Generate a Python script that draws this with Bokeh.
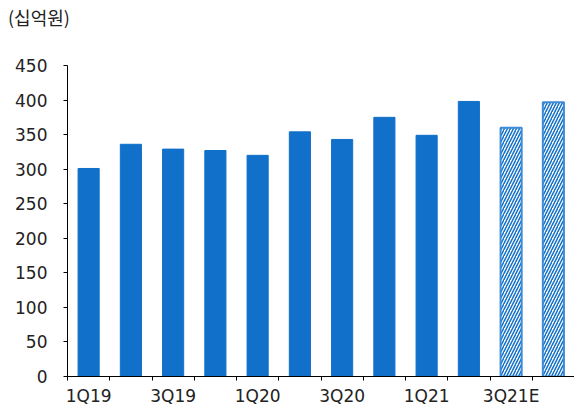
from bokeh.plotting import figure
from bokeh.models import ColumnDataSource, FixedTicker, Range1d, Div
from bokeh.layouts import column
from bokeh.embed import file_html
from bokeh.resources import INLINE

quarters = ["1Q19", "2Q19", "3Q19", "4Q19", "1Q20", "2Q20", "3Q20", "4Q20",
            "1Q21", "2Q21", "3Q21E", "4Q21E"]
values = [301, 336, 329, 327, 320, 354, 343, 375, 349, 398, 360, 397]
estimate = [False] * 10 + [True] * 2
y_ticks = [0, 50, 100, 150, 200, 250, 300, 350, 400, 450]
unit_label = "(십억원)"

FONT = "DejaVu Sans, Noto Sans CJK KR"
BLUE = "#1170C9"
TXT = "#222222"

idx = list(range(len(quarters)))
centers = [i + 0.5 for i in idx]

act = ColumnDataSource(dict(x=[c for c, e in zip(centers, estimate) if not e],
                            top=[v for v, e in zip(values, estimate) if not e]))
est = ColumnDataSource(dict(x=[c for c, e in zip(centers, estimate) if e],
                            top=[v for v, e in zip(values, estimate) if e]))

header = Div(
    text=('<div style="margin:0;padding:8px 0 0 8px;font-family:\'Noto Sans CJK KR\';'
          'font-size:18px;line-height:1;color:%s;white-space:nowrap">%s</div>') % (TXT, unit_label),
    width=574, height=40, margin=0)

p = figure(width=574, height=368, output_backend="svg", toolbar_location=None,
           x_range=Range1d(0, len(quarters)), y_range=Range1d(0, 450),
           min_border_left=67, min_border_right=0, min_border_top=25,
           min_border_bottom=32, margin=0)
p.outline_line_color = None
p.xgrid.visible = False
p.ygrid.visible = False

p.vbar(x="x", top="top", width=0.5, bottom=0, source=act,
       fill_color=BLUE, line_color=BLUE)
p.vbar(x="x", top="top", width=0.5, bottom=0, source=est,
       fill_color="white", line_color="#3E8CD8", line_width=2,
       hatch_pattern="/", hatch_color=BLUE, hatch_scale=6, hatch_weight=1.5)

# x axis: labels under every other bar, tick marks at category boundaries
label_pos = [c for i, c in zip(idx, centers) if i % 2 == 0]
p.xaxis.ticker = FixedTicker(ticks=label_pos, minor_ticks=idx)
p.xaxis.major_label_overrides = {c: quarters[i] for i, c in zip(idx, centers) if i % 2 == 0}
p.xaxis.major_tick_out = 0
p.xaxis.major_tick_in = 0
p.xaxis.minor_tick_out = 4
p.xaxis.minor_tick_in = 0
p.xaxis.major_label_standoff = 5
p.xaxis.major_label_text_line_height = 1.0

p.yaxis.ticker = FixedTicker(ticks=y_ticks)
p.yaxis.major_tick_out = 4
p.yaxis.major_tick_in = 0
p.yaxis.minor_tick_line_color = None
p.yaxis.major_label_standoff = 16

for ax in (p.xaxis, p.yaxis):
    ax.axis_line_color = "black"
    ax.axis_line_width = 1
    ax.major_tick_line_color = "black"
    ax.major_label_text_font = FONT
    ax.major_label_text_font_size = "17px"
    ax.major_label_text_color = TXT
p.xaxis.minor_tick_line_color = "black"

layout = column(header, p, spacing=0, margin=0)
open("out.html", "w").write(file_html(layout, INLINE))
